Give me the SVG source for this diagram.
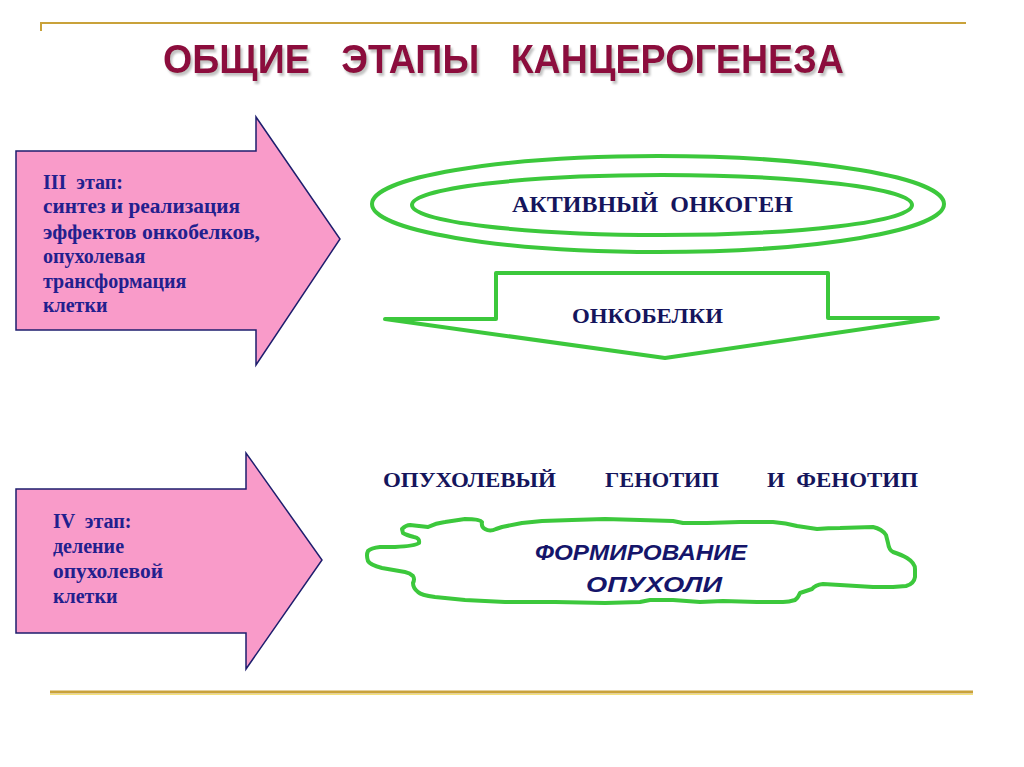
<svg xmlns="http://www.w3.org/2000/svg" width="1024" height="767" viewBox="0 0 1024 767">
<style>
.rule{stroke:#C9A23A;fill:none}
.title{font-family:"Liberation Sans Narrow","Liberation Sans",Arial,sans-serif;font-weight:bold;font-size:41px}
.pink{fill:#F99BC9;stroke:#1E1E6E;stroke-width:1.5;stroke-linejoin:miter}
.lbl{font-family:"Liberation Serif","Times New Roman",serif;font-weight:bold;fill:#22208E;font-size:20px}
.hd{font-family:"Liberation Serif","Times New Roman",serif;font-weight:bold;fill:#15155C}
.grn{fill:#FFFFFF;stroke:#3CC83C;stroke-width:4;stroke-linejoin:round}
.it{font-family:"Liberation Sans",Arial,sans-serif;font-weight:bold;font-style:italic;fill:#15156A;font-size:22px}
</style>
<defs>
<filter id="shadow" x="-5%" y="-20%" width="110%" height="150%">
<feDropShadow dx="2" dy="3" stdDeviation="0.8" flood-color="#9A9A9A" flood-opacity="0.6"/>
</filter>
</defs>
<rect width="1024" height="767" fill="#FFFFFF"/>
<g id="rules">
<line class="rule" x1="40" y1="23" x2="966" y2="23" stroke-width="2"/>
<line class="rule" x1="41" y1="22" x2="41" y2="31" stroke-width="2"/>
<line class="rule" x1="50" y1="692" x2="973" y2="692" stroke-width="3" stroke="#BF9A2E"/>
<line x1="50" y1="694.5" x2="973" y2="694.5" stroke="#F5E27A" stroke-width="1"/>
</g>
<g id="title">
<text class="title" x="163" y="73" fill="#8C0B3D" filter="url(#shadow)" textLength="681" lengthAdjust="spacingAndGlyphs" xml:space="preserve">ОБЩИЕ   ЭТАПЫ   КАНЦЕРОГЕНЕЗА</text>
</g>
<g id="stage3">
<path class="pink" d="M16,151 L256,151 L256,117 L340,239 L256,365 L256,330 L16,330 Z"/>
<text class="lbl" x="43" y="189" font-size="21" xml:space="preserve">III  этап:</text>
<text class="lbl" x="43" y="213" textLength="197" lengthAdjust="spacingAndGlyphs">синтез и реализация</text>
<text class="lbl" x="43" y="239" textLength="217" lengthAdjust="spacingAndGlyphs">эффектов онкобелков,</text>
<text class="lbl" x="43" y="263">опухолевая</text>
<text class="lbl" x="43" y="288">трансформация</text>
<text class="lbl" x="43" y="312">клетки</text>
</g>
<g id="stage4">
<path class="pink" d="M16,489 L246,489 L246,453 L322,560 L246,669 L246,633 L16,633 Z"/>
<text class="lbl" x="53" y="528" font-size="21" xml:space="preserve">IV  этап:</text>
<text class="lbl" x="53" y="553" font-size="19">деление</text>
<text class="lbl" x="53" y="578" font-size="19" textLength="110" lengthAdjust="spacingAndGlyphs">опухолевой</text>
<text class="lbl" x="53" y="603" font-size="19">клетки</text>
</g>
<g id="oncogene">
<ellipse class="grn" cx="658" cy="204" rx="286" ry="48"/>
<ellipse class="grn" cx="662" cy="205" rx="250" ry="30"/>
<text class="hd" x="512" y="212" font-size="23" textLength="281" lengthAdjust="spacingAndGlyphs" xml:space="preserve">АКТИВНЫЙ  ОНКОГЕН</text>
</g>
<g id="connectors">
<path id="oncoproteins" class="grn" d="M385,319 L496,319 L496,273 L828,273 L828,318 L938,318 L665,358 Z"/>
<text class="hd" x="572" y="323" font-size="21" textLength="151" lengthAdjust="spacingAndGlyphs">ОНКОБЕЛКИ</text>
</g>
<g id="genotype">
<text class="hd" x="383" y="487" font-size="21" textLength="173" lengthAdjust="spacingAndGlyphs">ОПУХОЛЕВЫЙ</text>
<text class="hd" x="605" y="487" font-size="21" textLength="114" lengthAdjust="spacingAndGlyphs">ГЕНОТИП</text>
<text class="hd" x="767" y="487" font-size="21" textLength="151" lengthAdjust="spacingAndGlyphs" xml:space="preserve">И  ФЕНОТИП</text>
</g>
<g id="tumor">
<path class="grn" d="M402,529 Q406,525 410,525 L428,527 Q436,523 445,522 L465,519 Q480,519 482,522 Q481,527 485,529 Q490,532 496,529 L502,527 L522,523 L542,521 L572,520 L605,519 L640,520 L673,521 L683,523 L707,523 L740,522 L773,522 Q786,523 797,526 L817,529 Q828,528 840,528 L873,527 Q882,529 886,535 L888,543 Q889,550 893,552 Q902,555 907,558 Q915,563 915,569 L915,577 Q914,584 906,586 L893,587 L873,587 L840,585 L823,584 Q815,585 812,589 L800,593 Q798,598 795,600 Q789,602 783,602 L757,602 L723,601 L700,602 L673,600 L650,600 L640,602 L605,603 L555,602 L505,602 L465,600 L435,597 Q421,595 418,592 Q413,588 413,583 Q415,579 413,576 Q410,573 405,572 L382,568 Q370,565 368,561 Q366,555 368,551 Q371,548 380,547 L395,547 Q415,546 419,543 Q420,538 414,537 Q406,535 403,533 Z"/>
<text class="it" x="535" y="560" textLength="212" lengthAdjust="spacingAndGlyphs">ФОРМИРОВАНИЕ</text>
<text class="it" x="586" y="592" textLength="136" lengthAdjust="spacingAndGlyphs">ОПУХОЛИ</text>
</g>
</svg>
